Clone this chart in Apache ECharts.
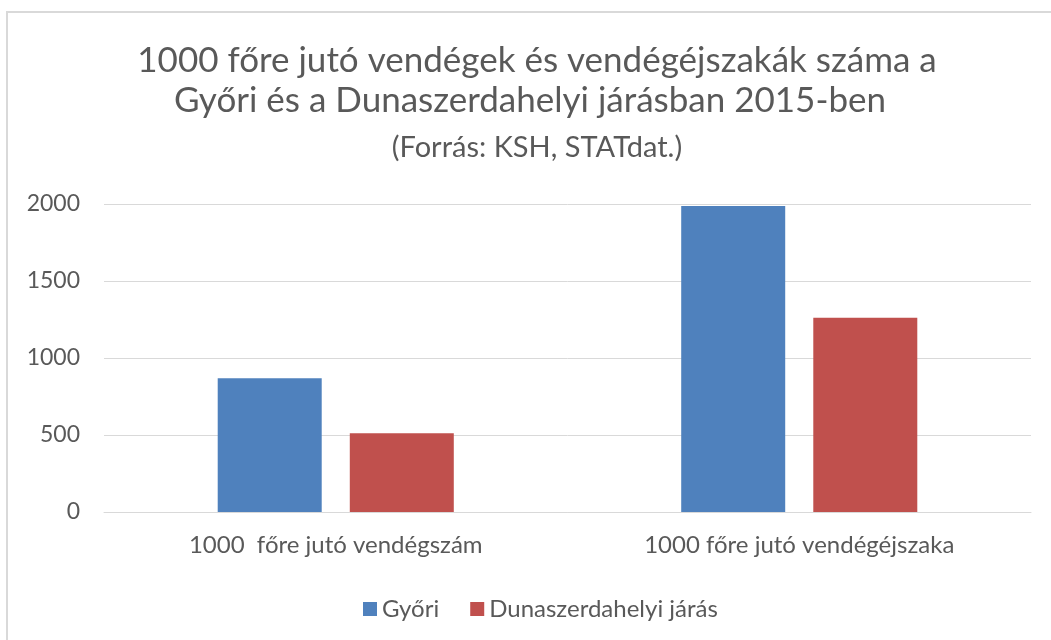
<!DOCTYPE html>
<html>
<head>
<meta charset="utf-8">
<script src="https://cdn.jsdelivr.net/npm/echarts@6/dist/echarts.min.js"></script>
<style>html,body{margin:0;padding:0;background:#fff}#c{width:1051px;height:640px}</style>
</head>
<body>
<div id="c"></div>
<script>
var categories = ['1000  főre jutó vendégszám', '1000 főre jutó vendégéjszaka'];
var seriesNames = ['Győri', 'Dunaszerdahelyi járás'];
var gyoriValues = [869, 1987];
var dunaValues = [512, 1261];
var titleLines = ['1000 főre jutó vendégek és vendégéjszakák száma a', 'Győri és a Dunaszerdahelyi járásban 2015-ben'];
var subtitleText = '(Forrás: KSH, STATdat.)';

var FONT = 'Lato, "Open Sans", sans-serif';
var GRAY = '#595959';
var chart = echarts.init(document.getElementById('c'), null, {renderer: 'canvas'});
chart.setOption({
  animation: false,
  backgroundColor: '#fff',
  textStyle: {fontFamily: FONT},
  graphic: [
    {type: 'rect', shape: {x: 7, y: 12, width: 1200, height: 800}, style: {fill: 'none', stroke: '#d9d9d9', lineWidth: 2}, silent: true},
    {type: 'text', x: 537, y: 43, style: {text: titleLines[0], fill: GRAY, font: 'normal 35px ' + FONT, align: 'center', verticalAlign: 'top'}},
    {type: 'text', x: 530, y: 83, style: {text: titleLines[1], fill: GRAY, font: 'normal 35px ' + FONT, align: 'center', verticalAlign: 'top'}},
    {type: 'text', x: 537, y: 133, style: {text: subtitleText, fill: GRAY, font: 'normal 29px ' + FONT, align: 'center', verticalAlign: 'top'}}
  ],
  legend: {
    data: seriesNames,
    left: 358, top: 592,
    icon: 'rect', itemWidth: 14, itemHeight: 14, itemGap: 31,
    textStyle: {color: GRAY, fontSize: 24, fontFamily: FONT, padding: [0,0,0,0]}
  },
  grid: {left: 104, right: 20, top: 204, bottom: 128, containLabel: false},
  xAxis: {
    type: 'category', data: categories,
    axisLine: {show: true, lineStyle: {color: '#d9d9d9', width: 1}},
    axisTick: {show: false},
    axisLabel: {color: GRAY, fontSize: 24, margin: 21, fontFamily: FONT}
  },
  yAxis: {
    type: 'value', min: 0, max: 2000, interval: 500,
    axisLine: {show: false}, axisTick: {show: false},
    axisLabel: {color: GRAY, fontSize: 23, margin: 24, fontFamily: FONT, formatter: function (v) { return String(v); }},
    splitLine: {lineStyle: {color: '#d9d9d9', width: 1}}
  },
  series: [
    {name: seriesNames[0], type: 'bar', data: gyoriValues, barWidth: 104, barGap: '27%', itemStyle: {color: '#4F81BD'}},
    {name: seriesNames[1], type: 'bar', data: dunaValues, barWidth: 104, itemStyle: {color: '#C0504D'}}
  ]
});
</script>
</body>
</html>
